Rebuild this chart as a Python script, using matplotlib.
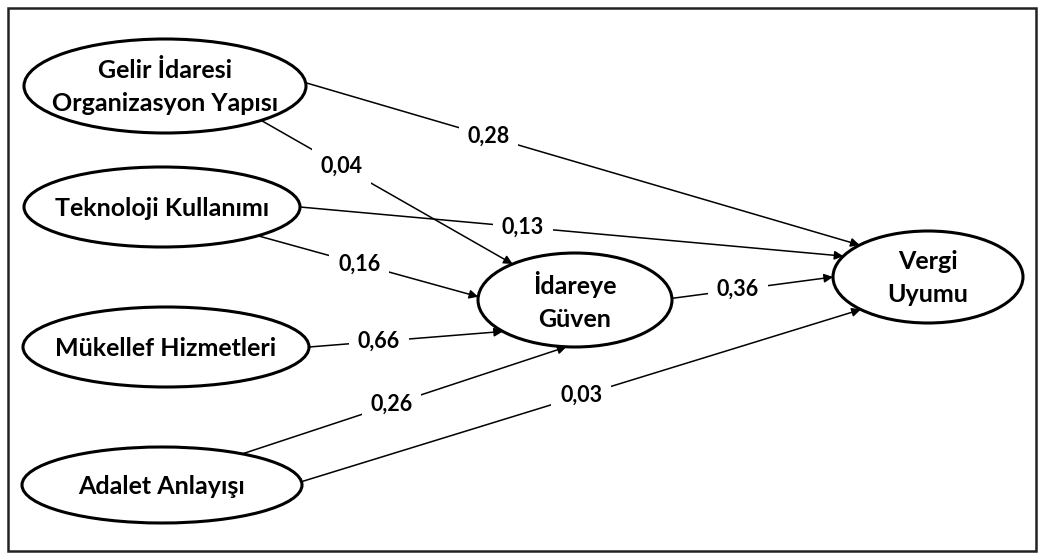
import numpy as np
import matplotlib
matplotlib.use("Agg")
import matplotlib.pyplot as plt
from matplotlib.patches import Ellipse, Rectangle

# ---- data ----
nodes = ["Gelir İdaresi\nOrganizasyon Yapısı", "Teknoloji Kullanımı", "Mükellef Hizmetleri",
         "Adalet Anlayışı", "İdareye\nGüven", "Vergi\nUyumu"]
edge_from = [0, 0, 1, 1, 2, 3, 3, 4]
edge_to = [5, 4, 5, 4, 4, 4, 5, 5]
coefs = ["0,28", "0,04", "0,13", "0,16", "0,66", "0,26", "0,03", "0,36"]

# ---- layout (pixel space, y downward) ----
node_center = [(165, 86), (162, 207), (166, 347), (162, 485), (575, 300), (928, 277)]
node_half = [(141, 47), (138, 40), (143, 40), (140, 38), (97, 47), (95, 46)]
start_angle = [-4, 47, 0, 46, 0, -55, -5, -2]
end_angle = [-136, -130, -153, -176, 138, 95, 135, 180]
label_t = [0.33, 0.32, 0.41, 0.46, 0.36, 0.46, 0.50, 0.41]

W, H = 1044, 556
fig = plt.figure(figsize=(W / 100, H / 100), dpi=100)
ax = fig.add_axes([0, 0, 1, 1])
ax.set_xlim(0, W)
ax.set_ylim(H, 0)
ax.axis("off")

FONT = "Lato"

ax.add_patch(Rectangle((8, 8), 1028, 543, fill=False, lw=1.8, ec="#222222", zorder=1))

def pt(i, ang):
    cx, cy = node_center[i]
    hw, hh = node_half[i]
    a = np.deg2rad(ang)
    return cx + hw * np.cos(a), cy + hh * np.sin(a)

for i, name in enumerate(nodes):
    cx, cy = node_center[i]
    hw, hh = node_half[i]
    ax.add_patch(Ellipse((cx, cy), 2 * hw, 2 * hh, fill=True, fc="white", ec="black", lw=2.2, zorder=3))
    ax.text(cx, cy + 1, name, ha="center", va="center", fontsize=18, fontweight="bold",
            family=FONT, linespacing=1.5, zorder=4)

for k in range(len(coefs)):
    x0, y0 = pt(edge_from[k], start_angle[k])
    x1, y1 = pt(edge_to[k], end_angle[k])
    ax.annotate("", xy=(x1, y1), xytext=(x0, y0),
                arrowprops=dict(arrowstyle="-|>", lw=1.1, color="black", mutation_scale=13,
                                shrinkA=0, shrinkB=0), zorder=2)
    t = label_t[k]
    lx, ly = x0 + t * (x1 - x0), y0 + t * (y1 - y0)
    ax.text(lx, ly, coefs[k], ha="center", va="center", fontsize=15.5, fontweight="bold",
            family=FONT, zorder=5,
            bbox=dict(boxstyle="square,pad=0.4", fc="white", ec="none"))

fig.savefig("out.png", dpi=100)
